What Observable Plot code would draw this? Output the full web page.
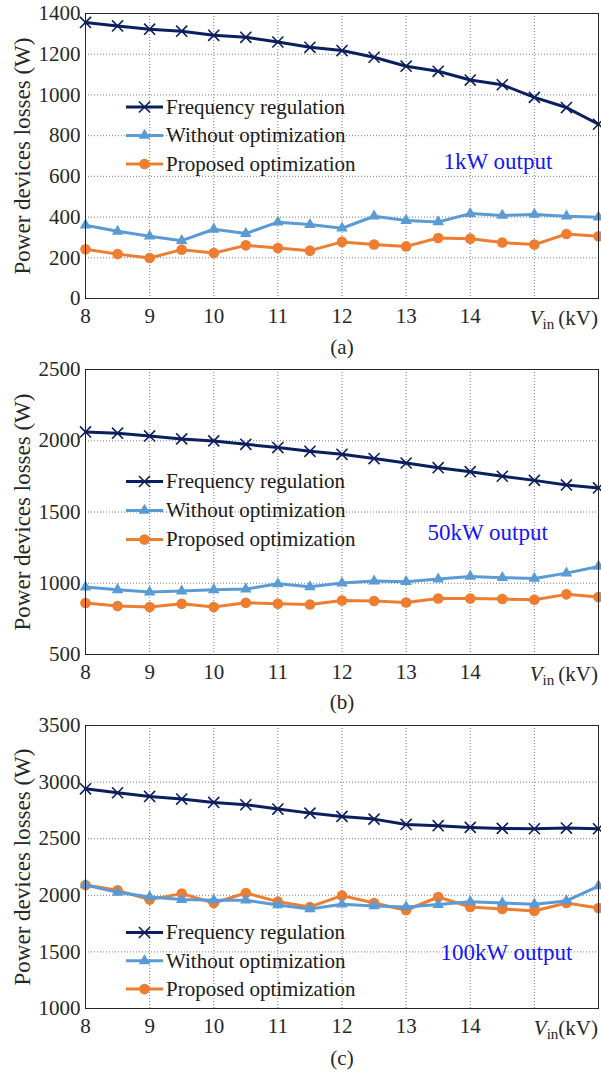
<!DOCTYPE html>
<html>
<head>
<meta charset="utf-8">
<script src="https://cdn.jsdelivr.net/npm/d3@7"></script>
<script src="https://cdn.jsdelivr.net/npm/@observablehq/plot@0.6"></script>
<style>
  body { margin: 0; background: #fff; }
  #chart { width: 601px; position: relative; }
  #chart svg { display: block; overflow: visible; position: relative; }
  #chart svg text { font-family: "Liberation Serif", "Times New Roman", serif; font-variant-numeric: normal; }
</style>
</head>
<body>
<div id="chart"></div>
<script>
// ---- data ----
const vin = [8, 8.5, 9, 9.5, 10, 10.5, 11, 11.5, 12, 12.5, 13, 13.5, 14, 14.5, 15, 15.5, 16];
const seriesNames = ["Frequency regulation", "Without optimization", "Proposed optimization"];

const freqA = [1356, 1339, 1323, 1313, 1293, 1283, 1260, 1234, 1218, 1185, 1141, 1116, 1073, 1050, 988, 938, 856];
const withoutA = [360, 330, 306, 284, 340, 319, 375, 363, 345, 404, 383, 376, 417, 408, 413, 404, 399];
const proposedA = [242, 218, 199, 240, 223, 261, 248, 235, 278, 265, 256, 297, 294, 275, 265, 317, 306];

const freqB = [2062, 2053, 2034, 2013, 1999, 1975, 1952, 1926, 1905, 1875, 1844, 1811, 1783, 1751, 1722, 1690, 1669];
const withoutB = [973, 954, 938, 945, 954, 959, 996, 975, 1001, 1015, 1011, 1029, 1048, 1039, 1034, 1071, 1118];
const proposedB = [861, 840, 833, 856, 833, 863, 856, 851, 879, 875, 865, 893, 893, 889, 884, 922, 903];

const freqC = [2941, 2906, 2873, 2850, 2820, 2800, 2762, 2726, 2697, 2673, 2626, 2615, 2600, 2591, 2588, 2594, 2588];
const withoutC = [2091, 2026, 1985, 1962, 1956, 1956, 1915, 1879, 1921, 1906, 1897, 1918, 1944, 1932, 1921, 1950, 2082];
const proposedC = [2091, 2044, 1962, 2015, 1932, 2020, 1944, 1897, 1997, 1932, 1868, 1985, 1897, 1879, 1862, 1932, 1888];

const xTickLabels = [8, 9, 10, 11, 12, 13, 14];
const xGridTicks = [8, 9, 10, 11, 12, 13, 14, 15, 16];
const yTicksA = [0, 200, 400, 600, 800, 1000, 1200, 1400];
const yTicksB = [500, 1000, 1500, 2000, 2500];
const yTicksC = [1000, 1500, 2000, 2500, 3000, 3500];
const notes = ["1kW output", "50kW output", "100kW output"];
const captions = ["(a)", "(b)", "(c)"];
const yLabel = "Power devices losses (W)";

// ---- styles ----
const colors = ["#0b1f5e", "#5b9bd5", "#ed7d31"];
const symbols = ["times", "triangle", "circle"];
const radii = [5.1, 4.3, 5.3];
const FONT = "Liberation Serif";

// svg boxes: a 0-360, b 350-720, c 710-1075 (overlapping by 10px, transparent backgrounds)
const panels = [
  {values: [freqA, withoutA, proposedA], yTicks: yTicksA, height: 360, shift: 0, mt: 13, mb: 62, capDy: 49,
   legendTop: 107, legendGap: 28.5, noteDx: 358, noteDy: 148, vinSpace: true},
  {values: [freqB, withoutB, proposedB], yTicks: yTicksB, height: 370, shift: -10, mt: 19, mb: 66, capDy: 48,
   legendTop: 131.5, legendGap: 29, noteDx: 342, noteDy: 163, vinSpace: true},
  {values: [freqC, withoutC, proposedC], yTicks: yTicksC, height: 365, shift: -10, mt: 15, mb: 67, capDy: 50,
   legendTop: 222.5, legendGap: 28.3, noteDx: 355, noteDy: 227, vinSpace: false}
];

const container = document.getElementById("chart");

panels.forEach((p, pi) => {
  const tables = p.values.map((vals, k) => vals.map((v, i) => ({x: vin[i], y: v, s: seriesNames[k]})));
  const drawOrder = [0, 2, 1];
  const seriesMarks = [];
  drawOrder.forEach(k => {
    seriesMarks.push(Plot.line(tables[k], {x: "x", y: "y", stroke: colors[k], strokeWidth: 3}));
    seriesMarks.push(Plot.dot(tables[k], {
      x: "x", y: "y", r: radii[k], symbol: () => symbols[k],
      ...(k === 0 ? {stroke: colors[k], strokeWidth: 1.6, fill: "none"} : {fill: colors[k], stroke: "none"})
    }));
  });

  const svg = Plot.plot({
    width: 601,
    height: p.height,
    marginLeft: 85,
    marginRight: 3,
    marginTop: p.mt,
    marginBottom: p.mb,
    style: {fontFamily: FONT, fontSize: "21px", color: "#262626", background: "transparent"},
    x: {domain: [8, 16]},
    y: {domain: [p.yTicks[0], p.yTicks[p.yTicks.length - 1]]},
    marks: [
      Plot.gridX(xGridTicks, {stroke: "#6e6e6e", strokeOpacity: 1, strokeWidth: 0.9, strokeDasharray: "1,2"}),
      Plot.gridY(p.yTicks, {stroke: "#6e6e6e", strokeOpacity: 1, strokeWidth: 0.9, strokeDasharray: "1,2"}),
      Plot.axisX(xTickLabels, {tickSize: 0, tickPadding: 10, label: null, fontSize: 21, fill: "#262626", tickFormat: d => String(d)}),
      Plot.axisY(p.yTicks, {tickSize: 0, tickPadding: 5, label: null, fontSize: 21, fill: "#262626", tickFormat: d => String(d)}),
      ...seriesMarks,
      Plot.frame({stroke: "#262626", strokeWidth: 1}),
      Plot.text([notes[pi]], {frameAnchor: "top-left", dx: p.noteDx, dy: p.noteDy, textAnchor: "start",
        fill: "#1515f5", fontSize: 23, lineAnchor: "middle"}),
      Plot.text([captions[pi]], {frameAnchor: "bottom", dy: p.capDy, fill: "#262626", fontSize: 21, lineAnchor: "middle", textAnchor: "middle"}),
      Plot.text([yLabel], {frameAnchor: "left", dx: -63, rotate: -90, fill: "#262626", fontSize: 23, lineAnchor: "middle", textAnchor: "middle"})
    ]
  });

  svg.style.marginTop = p.shift + "px";
  svg.style.zIndex = String(pi + 1);

  const xs = svg.scale("x");
  const root = d3.select(svg);
  const frameBottom = p.height - p.mb;

  // V_in (kV) axis label
  const t = root.append("text")
    .attr("x", xs.apply(16))
    .attr("y", frameBottom + 27)
    .attr("text-anchor", "end")
    .attr("fill", "#262626")
    .style("font-size", "21px");
  t.append("tspan").attr("font-style", "italic").text("V");
  t.append("tspan").attr("font-size", "15px").attr("dy", 4).text("in");
  t.append("tspan").attr("dy", -4).text((p.vinSpace ? "\u2009" : "") + "(kV)");

  // legend
  const lg = root.append("g");
  const x0 = 85 + 41, x1 = 85 + 78, xm = (x0 + x1) / 2;
  seriesNames.forEach((name, k) => {
    const y = p.legendTop + k * p.legendGap;
    lg.append("line").attr("x1", x0).attr("x2", x1).attr("y1", y).attr("y2", y)
      .attr("stroke", colors[k]).attr("stroke-width", 3);
    const symType = [d3.symbolTimes, d3.symbolTriangle, d3.symbolCircle][k];
    const path = lg.append("path")
      .attr("transform", `translate(${xm},${y})`)
      .attr("d", d3.symbol(symType, radii[k] * radii[k] * Math.PI)());
    if (k === 0) path.attr("fill", "none").attr("stroke", colors[k]).attr("stroke-width", 1.6);
    else path.attr("fill", colors[k]);
    lg.append("text").attr("x", x1 + 3).attr("y", y).attr("dy", "0.32em")
      .attr("text-anchor", "start")
      .attr("fill", "#1a1a1a")
      .style("font-size", "21px")
      .text(name);
  });

  container.appendChild(svg);
});
</script>
</body>
</html>
